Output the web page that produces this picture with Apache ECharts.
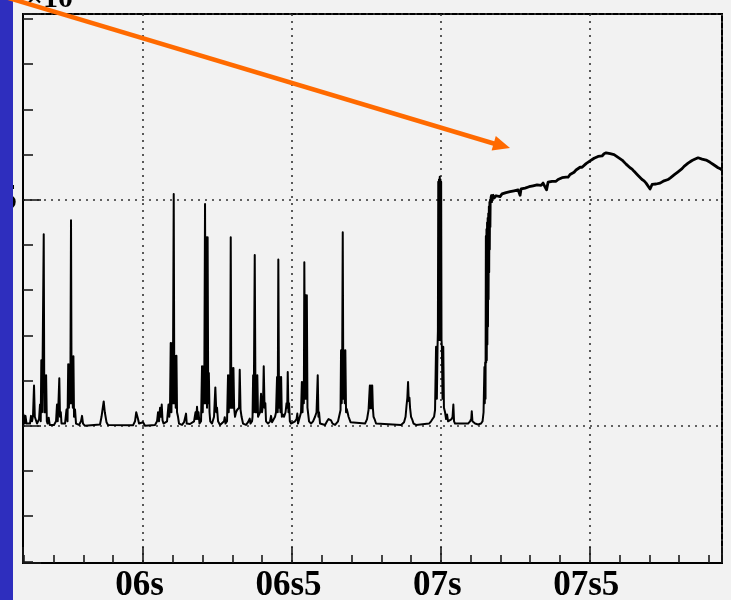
<!DOCTYPE html>
<html>
<head>
<meta charset="utf-8">
<script src="https://cdn.jsdelivr.net/npm/echarts@6/dist/echarts.min.js"></script>
<style>
  html, body { margin: 0; padding: 0; background: #f2f2f2; }
  #chart { width: 731px; height: 600px; }
</style>
</head>
<body>
<div id="chart"></div>
<script>
// Burst region: resonance spikes on a flat baseline (time in s, signal in units of the ×10 scale)
const burstTime = [
  5.5937, 5.5987, 5.6021, 5.6054, 5.6088, 5.6138, 5.6205, 5.6239, 5.6273, 5.6306,
  5.6340, 5.6367, 5.6390, 5.6441, 5.6508, 5.6541, 5.6565, 5.6585, 5.6608, 5.6629,
  5.6666, 5.6686, 5.6706, 5.6726, 5.6746, 5.6770, 5.6793, 5.6833, 5.6867, 5.6911,
  5.7011, 5.7079, 5.7112, 5.7136, 5.7159, 5.7189, 5.7213, 5.7240, 5.7263, 5.7314,
  5.7381, 5.7431, 5.7465, 5.7488, 5.7512, 5.7535, 5.7559, 5.7582, 5.7602, 5.7623,
  5.7643, 5.7663, 5.7683, 5.7717, 5.7750, 5.7851, 5.7918, 5.7952, 5.7985, 5.8052,
  5.8556, 5.8606, 5.8640, 5.8680, 5.8717, 5.8741, 5.8774, 5.8825, 5.9664, 5.9731,
  5.9772, 5.9799, 5.9832, 5.9866, 5.9933, 6.0000, 6.0067, 6.0403, 6.0470, 6.0504,
  6.0537, 6.0571, 6.0604, 6.0628, 6.0655, 6.0688, 6.0739, 6.0806, 6.0856, 6.0883,
  6.0907, 6.0930, 6.0954, 6.0977, 6.1001, 6.1031, 6.1051, 6.1075, 6.1098, 6.1122,
  6.1142, 6.1175, 6.1209, 6.1310, 6.1377, 6.1420, 6.1444, 6.1467, 6.1511, 6.1578,
  6.1645, 6.1713, 6.1763, 6.1786, 6.1813, 6.1840, 6.1864, 6.1897, 6.1948, 6.1981,
  6.2005, 6.2028, 6.2055, 6.2082, 6.2105, 6.2126, 6.2149, 6.2169, 6.2189, 6.2210,
  6.2233, 6.2257, 6.2317, 6.2384, 6.2428, 6.2461, 6.2485, 6.2519, 6.2586, 6.2653,
  6.2720, 6.2743, 6.2770, 6.2821, 6.2854, 6.2878, 6.2901, 6.2925, 6.2945, 6.2965,
  6.2989, 6.3012, 6.3036, 6.3059, 6.3089, 6.3123, 6.3157, 6.3190, 6.3224, 6.3247,
  6.3274, 6.3308, 6.3358, 6.3459, 6.3526, 6.3583, 6.3610, 6.3660, 6.3677, 6.3697,
  6.3717, 6.3751, 6.3778, 6.3798, 6.3818, 6.3838, 6.3862, 6.3895, 6.3929, 6.3962,
  6.3996, 6.4030, 6.4053, 6.4080, 6.4107, 6.4130, 6.4198, 6.4265, 6.4298, 6.4332,
  6.4382, 6.4433, 6.4466, 6.4500, 6.4523, 6.4543, 6.4567, 6.4590, 6.4614, 6.4637,
  6.4661, 6.4701, 6.4735, 6.4785, 6.4819, 6.4842, 6.4859, 6.4883, 6.4903, 6.4930,
  6.4970, 6.5037, 6.5104, 6.5155, 6.5181, 6.5205, 6.5255, 6.5306, 6.5333, 6.5356,
  6.5379, 6.5400, 6.5416, 6.5440, 6.5460, 6.5480, 6.5500, 6.5521, 6.5541, 6.5574,
  6.5641, 6.5709, 6.5776, 6.5826, 6.5850, 6.5866, 6.5890, 6.5910, 6.5944, 6.6112,
  6.6179, 6.6229, 6.6279, 6.6313, 6.6364, 6.6448, 6.6548, 6.6599, 6.6632, 6.6649,
  6.6672, 6.6689, 6.6706, 6.6726, 6.6750, 6.6773, 6.6793, 6.6817, 6.6840, 6.6867,
  6.6901, 6.6934, 6.6968, 6.7018, 6.7455, 6.7522, 6.7572, 6.7599, 6.7616, 6.7636,
  6.7656, 6.7676, 6.7696, 6.7717, 6.7740, 6.7774, 6.7824, 6.7891, 6.8664, 6.8764,
  6.8815, 6.8848, 6.8875, 6.8899, 6.8922, 6.8946, 6.8966, 6.9000, 6.9033, 6.9084,
  6.9167, 6.9604, 6.9671, 6.9721, 6.9772, 6.9805, 6.9839, 6.9866, 6.9889, 6.9901,
  6.9913, 6.9925, 6.9936, 6.9950, 6.9963, 6.9975, 6.9987, 6.9999, 7.0010, 7.0022,
  7.0034, 7.0057, 7.0081, 7.0104, 7.0141, 7.0175,
  7.0208, 7.0242, 7.0309, 7.0360, 7.0393, 7.0420, 7.0443, 7.0477, 7.0544, 7.0746,
  7.0914, 7.0981, 7.1021, 7.1038, 7.1061, 7.1098, 7.1149, 7.1249, 7.1350, 7.1400,
  7.1434, 7.1451, 7.1463, 7.1475, 7.1488, 7.1500, 7.1512, 7.1522, 7.1532, 7.1542,
  7.1552, 7.1562, 7.1572, 7.1582, 7.1592, 7.1602, 7.1612, 7.1622, 7.1632, 7.1642,
  7.1652, 7.1662, 7.1672, 7.1689, 7.1713, 7.1736
];
const burstSignal = [
  0.05, 0.25, 0.05, 0.22, 0.05, 0.02, 0.05, 0.22, 0.10, 0.22,
  0.89, 0.20, 0.22, 0.05, 0.15, 0.47, 0.10, 1.45, 0.30, 1.45,
  4.24, 0.30, 1.12, 0.30, 1.12, 0.10, 0.05, 0.18, 0.02, 0.00,
  0.02, 0.10, 0.47, 0.10, 0.47, 1.05, 0.20, 0.30, 0.05, 0.02,
  0.05, 0.36, 0.10, 1.36, 0.40, 1.36, 0.50, 4.55, 0.50, 1.54,
  0.40, 1.54, 0.20, 0.36, 0.05, 0.02, 0.10, 0.22, 0.05, 0.00,
  0.03, 0.20, 0.36, 0.54, 0.30, 0.33, 0.08, 0.02, 0.01, 0.10,
  0.30, 0.32, 0.15, 0.05, 0.05, 0.08, 0.00, 0.02, 0.10, 0.30,
  0.10, 0.40, 0.20, 0.47, 0.12, 0.05, 0.03, 0.10, 0.47, 0.20,
  0.47, 1.83, 0.30, 1.83, 0.50, 5.13, 0.50, 1.55, 0.40, 1.55,
  0.30, 0.20, 0.05, 0.02, 0.08, 0.10, 0.27, 0.05, 0.05, 0.04,
  0.02, 0.10, 0.30, 0.15, 0.42, 0.15, 0.30, 0.05, 0.10, 1.32,
  0.30, 1.32, 0.50, 4.91, 0.50, 4.17, 0.40, 4.17, 0.50, 1.17,
  0.30, 0.10, 0.05, 0.20, 0.85, 0.30, 0.40, 0.10, 0.02, 0.05,
  0.10, 0.19, 0.05, 0.10, 1.12, 0.30, 1.12, 0.40, 4.17, 0.40,
  1.28, 0.40, 1.28, 0.40, 0.20, 0.30, 0.35, 0.36, 0.40, 1.24,
  0.36, 0.20, 0.05, 0.02, 0.08, 0.16, 0.05, 0.10, 0.20, 1.12,
  0.30, 3.78, 0.30, 1.12, 0.30, 1.12, 0.20, 0.25, 0.30, 0.71,
  0.30, 0.50, 1.32, 0.40, 0.50, 0.10, 0.05, 0.10, 0.22, 0.08,
  0.10, 0.20, 0.30, 1.08, 0.30, 3.68, 0.40, 1.08, 0.30, 1.08,
  0.20, 0.25, 0.20, 0.30, 0.50, 0.40, 1.19, 0.30, 0.50, 0.10,
  0.05, 0.05, 0.10, 0.15, 0.27, 0.05, 0.05, 0.30, 0.97, 0.30,
  0.97, 0.50, 3.62, 0.60, 2.89, 0.60, 2.89, 0.40, 0.40, 0.10,
  0.05, 0.10, 0.20, 0.30, 0.30, 1.12, 0.20, 0.30, 0.05, 0.02,
  0.10, 0.15, 0.19, 0.12, 0.05, 0.02, 0.10, 0.25, 0.35, 1.67,
  0.50, 1.67, 4.28, 0.60, 1.67, 0.50, 1.67, 0.30, 0.37, 0.30,
  0.20, 0.20, 0.08, 0.05, 0.05, 0.15, 0.35, 0.39, 0.89, 0.39,
  0.89, 0.39, 0.89, 0.40, 0.20, 0.15, 0.05, 0.02, 0.02, 0.08,
  0.20, 0.45, 0.62, 0.97, 0.55, 0.62, 0.40, 0.20, 0.15, 0.05,
  0.02, 0.05, 0.10, 0.15, 0.20, 0.35, 1.75, 0.60, 1.75, 2.10,
  5.40, 1.90, 5.45, 1.90, 5.51, 1.90, 5.45, 1.90, 5.40, 1.90,
  1.75, 0.60, 1.75, 0.40, 0.30, 0.15,
  0.25, 0.10, 0.10, 0.15, 0.20, 0.47, 0.10, 0.05, 0.03, 0.05,
  0.05, 0.10, 0.15, 0.32, 0.10, 0.12, 0.05, 0.03, 0.05, 0.10,
  0.30, 0.30, 1.30, 0.50, 1.40, 0.60, 4.20, 1.40, 4.35, 1.45,
  4.50, 1.80, 4.60, 2.20, 4.70, 2.80, 4.85, 3.40, 4.95, 3.90,
  5.00, 4.40, 5.05, 5.10, 4.95, 5.12
];

// Plateau after the transition: slow oscillation with small noise
const plateauTime = [
  7.1736, 7.1787, 7.1854, 7.1921, 7.1988, 7.2055, 7.2122, 7.2190, 7.2257, 7.2324, 7.2391,
  7.2458, 7.2525, 7.2593, 7.2660, 7.2693, 7.2760, 7.2828, 7.2895, 7.2962, 7.3029,
  7.3096, 7.3163, 7.3231, 7.3298, 7.3365, 7.3432, 7.3499, 7.3549, 7.3600, 7.3667,
  7.3734, 7.3801, 7.3868, 7.3936, 7.4003, 7.4070, 7.4137, 7.4204, 7.4272, 7.4339,
  7.4406, 7.4473, 7.4540, 7.4607, 7.4674, 7.4742, 7.4809, 7.4876, 7.4943, 7.5010,
  7.5077, 7.5145, 7.5212, 7.5279, 7.5346, 7.5413, 7.5480, 7.5548, 7.5615, 7.5682,
  7.5749, 7.5816, 7.5883, 7.5951, 7.6018, 7.6085, 7.6152, 7.6219, 7.6286, 7.6353,
  7.6421, 7.6488, 7.6555, 7.6622, 7.6689, 7.6756, 7.6824, 7.6891, 7.6958, 7.7025,
  7.7092, 7.7159, 7.7227, 7.7294, 7.7361, 7.7428, 7.7495, 7.7562, 7.7629, 7.7697,
  7.7764, 7.7831, 7.7898, 7.7965, 7.8032, 7.8100, 7.8167, 7.8234, 7.8301, 7.8368,
  7.8435, 7.8503, 7.8570, 7.8637, 7.8704, 7.8771, 7.8838, 7.8906, 7.8973, 7.9040,
  7.9107, 7.9174, 7.9241, 7.9308, 7.9376, 7.9443
];
const plateauSignal = [
  5.12, 5.04, 5.09, 5.11, 5.07, 5.13, 5.12, 5.16, 5.12, 5.18, 5.16,
  5.20, 5.17, 5.22, 5.10, 5.24, 5.22, 5.26, 5.24, 5.29, 5.26,
  5.31, 5.28, 5.33, 5.36, 5.32, 5.37, 5.38, 5.22, 5.39, 5.40,
  5.41, 5.45, 5.41, 5.45, 5.43, 5.49, 5.46, 5.50, 5.50, 5.56,
  5.60, 5.61, 5.66, 5.66, 5.72, 5.72, 5.76, 5.80, 5.82, 5.86,
  5.88, 5.92, 5.94, 5.96, 5.99, 5.97, 6.02, 6.04, 6.05, 6.02,
  6.04, 6.00, 5.99, 5.94, 5.93, 5.88, 5.84, 5.79, 5.75, 5.71,
  5.68, 5.63, 5.60, 5.54, 5.51, 5.45, 5.42, 5.37, 5.36, 5.24,
  5.34, 5.32, 5.35, 5.33, 5.37, 5.35, 5.42, 5.40, 5.45, 5.48,
  5.50, 5.55, 5.58, 5.62, 5.66, 5.69, 5.74, 5.77, 5.81, 5.84,
  5.87, 5.89, 5.90, 5.93, 5.91, 5.90, 5.92, 5.88, 5.85, 5.83,
  5.79, 5.77, 5.75, 5.71, 5.69, 5.66
];

// Axis labelling
const xTickValues = [6, 6.5, 7, 7.5];
const xTickLabels = ['06s', '06s5', '07s', '07s5'];
const yTickValues = [5];
const yTickLabels = ['5'];

const burst = burstTime.map((t, i) => [t, burstSignal[i]]);
const plateau = plateauTime.map((t, i) => [t, plateauSignal[i]]);

function labelFor(values, labels, v) {
  for (let i = 0; i < values.length; i++) {
    if (Math.abs(values[i] - v) < 1e-6) return labels[i];
  }
  return '';
}

const ink = '#1a1a1a';
const dotted = { color: '#333', width: 1.6, type: [2, 5] };
const labelFont = { fontFamily: 'Liberation Serif', fontWeight: 'bold', fontSize: 35, color: '#000' };

const chart = echarts.init(document.getElementById('chart'), null, { renderer: 'canvas' });
chart.setOption({
  animation: false,
  backgroundColor: '#f2f2f2',
  grid: {
    left: 23, right: 9, top: 14, bottom: 37,
    outerBoundsMode: 'none',
    containLabel: false,
    show: true, backgroundColor: '#f2f2f2', borderColor: '#000', borderWidth: 2
  },
  xAxis: {
    type: 'value',
    min: 5.597,
    max: 7.944,
    splitNumber: 5,
    axisLine: { show: true, onZero: false, lineStyle: { color: '#000', width: 2 } },
    axisTick: { show: true, inside: true, length: 16, lineStyle: { color: ink, width: 1.6 } },
    minorTick: { show: true, splitNumber: 5, length: 8, lineStyle: { color: ink, width: 1.6 } },
    splitLine: { show: true, lineStyle: dotted },
    axisLabel: Object.assign({
      showMinLabel: false, showMaxLabel: false,
      margin: 5,
      padding: [0, 7, 0, 0],
      formatter: v => labelFor(xTickValues, xTickLabels, v)
    }, labelFont)
  },
  yAxis: {
    type: 'value',
    min: -3.035,
    max: 9.111,
    splitNumber: 2,
    axisLine: { show: true, onZero: false, lineStyle: { color: '#000', width: 2 } },
    axisTick: { show: true, inside: true, length: 18, lineStyle: { color: ink, width: 1.6 } },
    minorTick: { show: true, splitNumber: 5, length: 10, lineStyle: { color: ink, width: 1.6 } },
    splitLine: { show: true, lineStyle: dotted },
    axisLabel: Object.assign({
      showMinLabel: false, showMaxLabel: false,
      margin: 6,
      padding: [0, 0, 10, 0],
      formatter: v => labelFor(yTickValues, yTickLabels, v)
    }, labelFont)
  },
  series: [{
    type: 'line',
    data: burst,
    showSymbol: false,
    symbol: 'none',
    sampling: null,
    clip: true,
    lineStyle: { color: '#000', width: 2, join: 'round', cap: 'butt' },
    z: 3
  }, {
    type: 'line',
    data: plateau,
    showSymbol: false,
    symbol: 'none',
    sampling: null,
    clip: true,
    lineStyle: { color: '#000', width: 2.8, join: 'round', cap: 'butt' },
    z: 3
  }],
  graphic: [
    // slide-coloured strip on the left edge
    { type: 'rect', left: 0, top: 0, z: 100,
      shape: { width: 13, height: 600 }, style: { fill: '#2e2ebe' } },
    // exponent marker, cut by the top edge
    { type: 'text', x: 26, y: 14, z: 90,
      style: { text: '×10', font: 'bold 30px "Liberation Serif"', fill: '#000',
               align: 'left', verticalAlign: 'bottom' } },
    // annotation arrow pointing at the plateau
    { type: 'line', z: 110,
      shape: { x1: -8, y1: -7, x2: 497, y2: 144.5 },
      style: { stroke: '#ff6a00', lineWidth: 4.5 } },
    { type: 'polygon', z: 110,
      shape: { points: [[510, 148], [495.8, 136.1], [491.6, 150.5]] },
      style: { fill: '#ff6a00' } }
  ]
});
</script>
</body>
</html>
